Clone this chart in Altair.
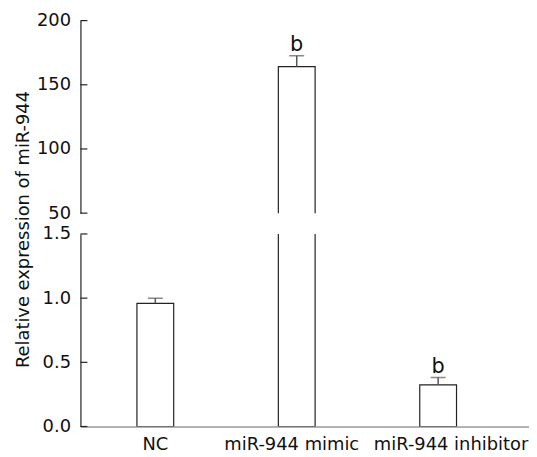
import altair as alt
import pandas as pd

categories = ["NC", "miR-944 mimic", "miR-944 inhibitor"]
means = [0.96, 164.2, 0.325]
errors = [0.04, 8.5, 0.057]
sig_marks = ["", "b", "b"]

top_ticks = [50, 100, 150, 200]
bottom_ticks = [0.0, 0.5, 1.0, 1.5]

df = pd.DataFrame({"group": categories, "mean": means, "err": errors, "sig": sig_marks})
df["upper"] = df["mean"] + df["err"]

FONT = "DejaVu Sans"
W, H = 452, 194

xscale = alt.Scale(domain=categories, paddingInner=0.74, paddingOuter=0.456, align=0.438)


def panel(domain, ticks, fmt, show_x, title):
    yscale = alt.Scale(domain=domain, zero=False, nice=False)
    base = alt.Chart(df)
    if show_x:
        xaxis = alt.Axis(
            title=None, ticks=False, labelAngle=0, labelFont=FONT, labelFontSize=18,
            labelColor="#111", labelPadding=9, domainColor="#666", domainWidth=1.2,
            labelOffset={"condition": [
                {"test": "datum.value === 'miR-944 inhibitor'", "value": 13},
                {"test": "datum.value === 'miR-944 mimic'", "value": -5}], "value": 0},
        )
    else:
        xaxis = None
    yargs = dict(
        values=ticks, format=fmt, ticks=False, labelPadding=10, labelFont=FONT,
        labelFontSize=18, labelColor="#111", domainColor="#222", domainWidth=1.2,
        grid=False,
    )
    if title:
        yaxis = alt.Axis(title=title, titleFont=FONT, titleFontSize=18, titleFontWeight="normal",
                         titleColor="#111", titleY=-5, titlePadding=10, **yargs)
    else:
        yaxis = alt.Axis(title=None, **yargs)

    x = alt.X("group:N", scale=xscale, axis=xaxis, sort=categories)
    bars = base.mark_bar(fill="white", stroke="#222", strokeWidth=1.2, clip=True).encode(
        x=x,
        y=alt.Y("mean:Q", scale=yscale, axis=yaxis),
        y2=alt.datum(0),
    )
    err = base.mark_rule(color="#555", strokeWidth=1.5, clip=True).encode(
        x=x, y=alt.Y("mean:Q", scale=yscale, axis=yaxis), y2="upper:Q"
    )
    cap = base.mark_tick(color="#555", thickness=1.5, size=15, clip=True).encode(
        x=x, y=alt.Y("upper:Q", scale=yscale, axis=yaxis)
    )
    txt = base.transform_filter(
        f"datum.sig != '' && datum.upper >= {domain[0]} && datum.upper <= {domain[1]}"
    ).mark_text(font=FONT, fontSize=21, color="#111", baseline="alphabetic", dy=-5).encode(
        x=x, y=alt.Y("upper:Q", scale=yscale, axis=yaxis), text="sig:N"
    )
    inner_ticks = alt.Chart(pd.DataFrame({"t": ticks})).mark_rule(color="#222", strokeWidth=1.2).encode(
        x=alt.value(0), x2=alt.value(7), y=alt.Y("t:Q", scale=yscale, axis=yaxis)
    )
    return alt.layer(bars, err, cap, txt, inner_ticks).properties(width=W, height=H)


top = panel([50, 200], top_ticks, "d", False, None)
bottom = panel([0, 1.5], bottom_ticks, ".1f", True, "Relative expression of miR-944")

chart = alt.vconcat(top, bottom, spacing=21, bounds="flush").properties(
    padding={"left": 6, "top": 2, "right": 0, "bottom": 0}
).configure_view(stroke=None)

chart.save("out.html", embed_options={"renderer": "svg", "actions": False})
